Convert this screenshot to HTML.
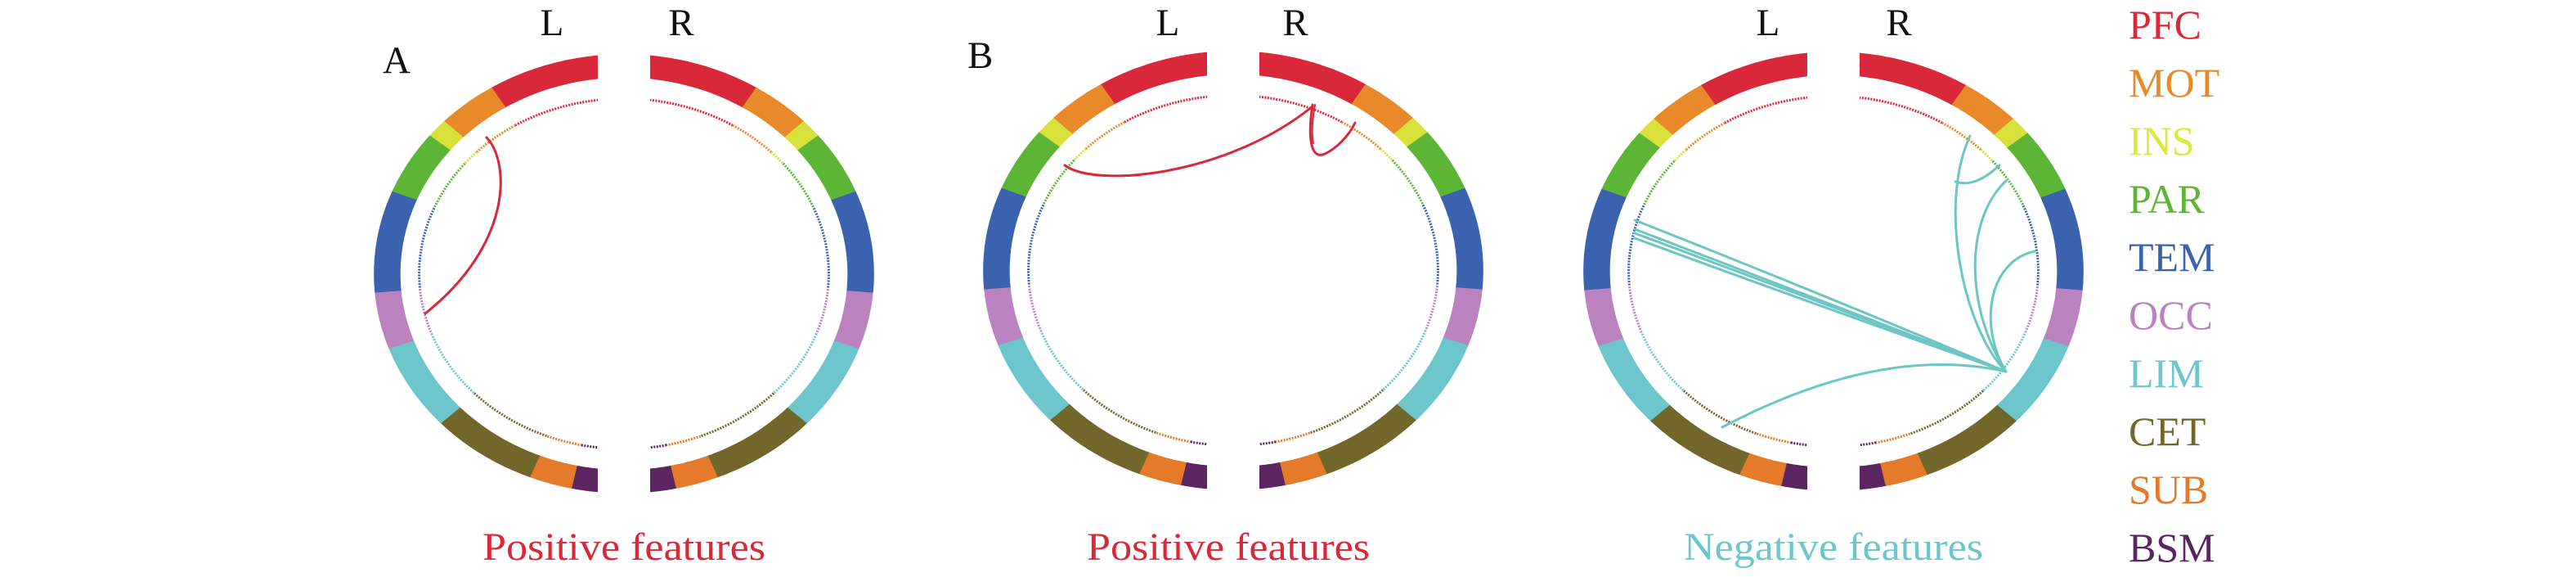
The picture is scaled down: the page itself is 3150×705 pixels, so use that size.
<!DOCTYPE html>
<html><head><meta charset="utf-8"><style>
html,body{margin:0;padding:0;background:#fff;}
svg{display:block;}
text{font-family:"Liberation Serif",serif;}
</style></head><body>
<svg id="s" width="3150" height="705" viewBox="0 0 3150 705" xmlns="http://www.w3.org/2000/svg">
<g id="rings"></g>
<g fill="none" stroke-linecap="round">
<path d="M595,168 C625,200 625,300 520,383" stroke="#d9283a" stroke-width="3"/>
<path d="M1302,202 C1340,230 1500,215 1605,130" stroke="#d9283a" stroke-width="3"/>
<path d="M1605,128 C1598,175 1605,195 1620,188 S1650,165 1657,150" stroke="#d9283a" stroke-width="3"/>
<path d="M1608,128 C1604,150 1604,165 1606,175" stroke="#d9283a" stroke-width="2"/>
<g stroke="#6cc6c4" stroke-width="3">
<path d="M1999,269 Q2230,360 2453,454"/>
<path d="M1999,280 Q2230,368 2453,454"/>
<path d="M1999,285 Q2230,372 2453,454"/>
<path d="M1999,291 Q2230,376 2453,454"/>
<path d="M2453,454 Q2300,420 2106,522"/>
<path d="M2453,454 C2400,400 2370,250 2409,166"/>
<path d="M2391,222 Q2415,230 2445,202"/>
<path d="M2453,454 C2405,380 2400,270 2454,220"/>
<path d="M2453,454 C2420,400 2430,320 2488,307"/>
</g>
</g>
<g font-size="47" fill="#111">
<text x="468" y="89">A</text>
<text x="1183" y="83">B</text>
<text x="675" y="43" text-anchor="middle">L</text>
<text x="833" y="43" text-anchor="middle">R</text>
<text x="1428" y="43" text-anchor="middle">L</text>
<text x="1584" y="43" text-anchor="middle">R</text>
<text x="2162" y="43" text-anchor="middle">L</text>
<text x="2322" y="43" text-anchor="middle">R</text>
</g>
<g font-size="48">
<text x="590" y="684" fill="#d9283a" textLength="346" lengthAdjust="spacingAndGlyphs">Positive features</text>
<text x="1329" y="684" fill="#d9283a" textLength="346" lengthAdjust="spacingAndGlyphs">Positive features</text>
<text x="2059" y="684" fill="#6cc6cc" textLength="366" lengthAdjust="spacingAndGlyphs">Negative features</text>
</g>
<g font-size="50">
<text x="2603" y="47" fill="#d9283a">PFC</text>
<text x="2603" y="118" fill="#e8892a">MOT</text>
<text x="2603" y="189" fill="#dfe83a">INS</text>
<text x="2603" y="260" fill="#5db535">PAR</text>
<text x="2603" y="331" fill="#3a62ae">TEM</text>
<text x="2603" y="402" fill="#bb82c0">OCC</text>
<text x="2603" y="473" fill="#6cc6cc">LIM</text>
<text x="2603" y="544" fill="#72672a">CET</text>
<text x="2603" y="615" fill="#e67a2b">SUB</text>
<text x="2603" y="686" fill="#5a2560">BSM</text>
</g>
</svg>
<script>
(function(){
var NS="http://www.w3.org/2000/svg";
var g=document.getElementById("rings");
var segs=[[0,32,"#d9283a"],[32,46,"#e8892a"],[46,51,"#d8e03a"],[51,68,"#5db535"],[68,95,"#3a62ae"],[95,110,"#bb82c0"],[110,133,"#6cc6cc"],[133,158,"#72672a"],[158,168,"#e67a2b"],[168,180,"#5a2560"]];
var panels=[[763,334.5],[1508,330.5],[2242,331.5]];
function pt(cx,cy,sx,r,a,side){var t=a*Math.PI/180;return [cx+side*sx*r*Math.sin(t),cy-r*Math.cos(t)];}
function el(n,at){var e=document.createElementNS(NS,n);for(var k in at)e.setAttribute(k,at[k]);g.appendChild(e);return e;}
panels.forEach(function(p){
 var cx=p[0],cy=p[1],sx=1.14,Ro=268,Ri=240,Rd=214,sd=1.17;
 [-1,1].forEach(function(side){
  segs.forEach(function(s){
   var a0=s[0],a1=s[1],d="",n=24,i,q;
   for(i=0;i<=n;i++){q=pt(cx,cy,sx,Ro,a0+(a1-a0)*i/n,side);d+=(i?"L":"M")+q[0].toFixed(1)+","+q[1].toFixed(1);}
   for(i=n;i>=0;i--){q=pt(cx,cy,sx,Ri,a0+(a1-a0)*i/n,side);d+="L"+q[0].toFixed(1)+","+q[1].toFixed(1);}
   el("path",{d:d+"Z",fill:s[2],stroke:s[2],"stroke-width":"0.6"});
   var dd="";
   for(i=0;i<=n;i++){q=pt(cx,cy,sd,Rd,a0+(a1-a0)*i/n,side);dd+=(i?"L":"M")+q[0].toFixed(1)+","+q[1].toFixed(1);}
   el("path",{d:dd,fill:"none",stroke:s[2],"stroke-width":"3","stroke-dasharray":"2 1.5"});
  });
 });
 el("rect",{x:cx-32,y:0,width:64,height:705,fill:"#fff"});
});
})();
</script>
</body></html>
